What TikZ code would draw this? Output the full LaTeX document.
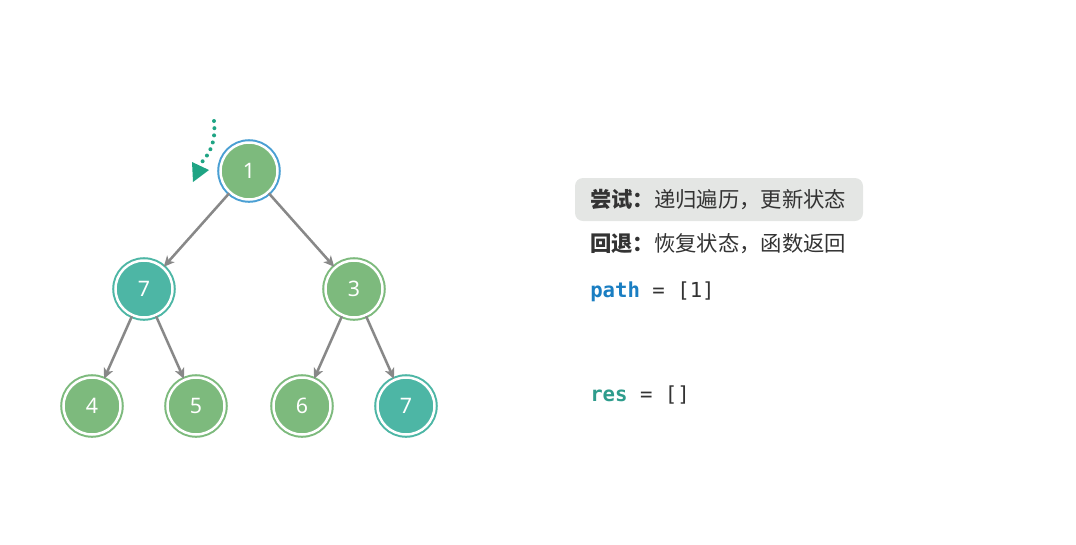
\documentclass[tikz,border=0pt]{standalone}
\usepackage{fontspec}
\newfontfamily\cjk{Noto Sans CJK SC}
\newfontfamily\digitfont{Noto Sans}
\newfontfamily\codefont{DejaVu Sans Mono}
\usetikzlibrary{arrows.meta}
\definecolor{leafgreen}{HTML}{7DBA7D}
\definecolor{ringgreen}{HTML}{7DBA7D}
\definecolor{hitteal}{HTML}{4DB6A5}
\definecolor{ringblue}{HTML}{4A9FD3}
\definecolor{enterteal}{HTML}{1FA484}
\definecolor{pathblue}{HTML}{1A7EC2}
\definecolor{resteal}{HTML}{2E9C8C}
\definecolor{boxgray}{HTML}{E4E6E4}
\definecolor{edgegray}{HTML}{888888}
\definecolor{textdark}{HTML}{333333}
\tikzset{
  treenode/.style 2 args={circle, minimum size=42.75pt, inner sep=0pt, fill=#1,
    draw=white, line width=1.875pt, preaction={draw=#2, line width=4.9pt},
    text=white, font=\digitfont\fontsize{16}{19}\selectfont},
  treeedge/.style={draw=edgegray, line width=1.9pt,
    -{Stealth[length=8pt,width=7.5pt,inset=2.2pt]}},
  sidetext/.style={anchor=west, inner sep=0pt, text=textdark,
    font=\cjk\fontsize{16}{19}\selectfont},
  codetext/.style={anchor=west, inner sep=0pt, text=textdark,
    font=\codefont\fontsize{15.5}{18}\selectfont}
}
\begin{document}
\begin{tikzpicture}[x=0.75pt,y=-0.75pt]
  \useasboundingbox (0,0) rectangle (1076,544);
  \node[treenode={leafgreen}{ringblue}] (n1) at (249,171) {1};
  \node[treenode={hitteal}{hitteal}] (n7) at (144,289) {7};
  \node[treenode={leafgreen}{ringgreen}] (n3) at (354,289) {3};
  \node[treenode={leafgreen}{ringgreen}] (n4) at (92,406) {4};
  \node[treenode={leafgreen}{ringgreen}] (n5) at (196,406) {5};
  \node[treenode={leafgreen}{ringgreen}] (n6) at (302,406) {6};
  \node[treenode={hitteal}{hitteal}] (n7b) at (406,406) {7};
  \draw[treeedge] (n1) -- (n7);
  \draw[treeedge] (n1) -- (n3);
  \draw[treeedge] (n7) -- (n4);
  \draw[treeedge] (n7) -- (n5);
  \draw[treeedge] (n3) -- (n6);
  \draw[treeedge] (n3) -- (n7b);
  \coordinate (enter) at (214,121);
  \coordinate (entertip) at (202,162);
  \draw[enterteal, line width=3pt, line cap=round, dash pattern=on 0pt off 5.4pt]
    (enter) .. controls (216,140) and (211,152) .. (entertip);
  \fill[enterteal] (192,162) -- (209,170) -- (193,182) -- cycle;
  \fill[boxgray, rounded corners=6pt] (575,178) rectangle (863,221);
  \node[sidetext] (try) at (590,200) {{\bfseries 尝试：}递归遍历，更新状态};
  \node[sidetext] (back) at (590,244) {{\bfseries 回退：}恢复状态，函数返回};
  \node[codetext] (path) at (590,292) {\textcolor{pathblue}{\bfseries path} = [1]};
  \node[codetext] (res) at (590,395) {\textcolor{resteal}{\bfseries res} = []};
\end{tikzpicture}
\end{document}
